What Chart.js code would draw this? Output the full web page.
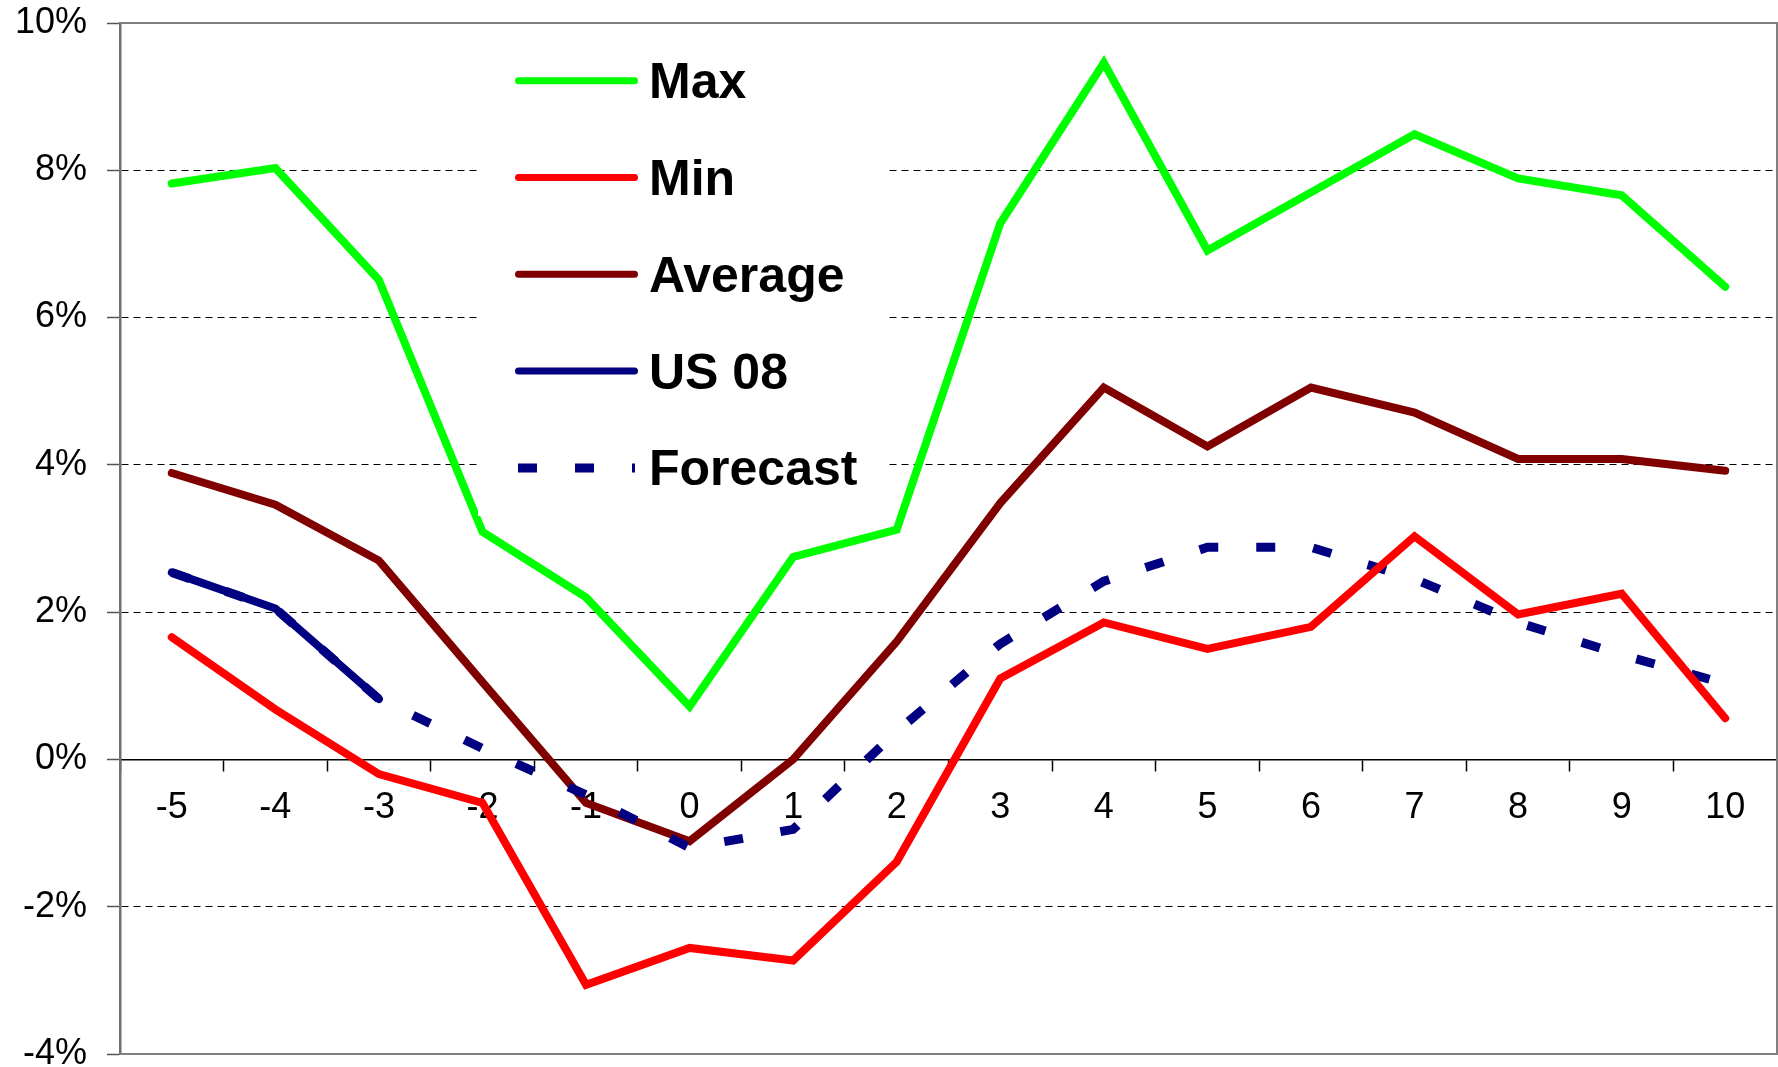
<!DOCTYPE html>
<html lang="en">
<head>
  <meta charset="UTF-8" />
  <title>Max / Min / Average / US 08 / Forecast</title>
  <script src="https://cdn.jsdelivr.net/npm/chart.js"></script>
  <style>
    html, body { margin: 0; padding: 0; background: #fff; }
    .wrap { width: 1778px; height: 1067px; position: relative; }
  </style>
</head>
<body>
  <div class="wrap">
    <canvas id="chart"></canvas>
  </div>

  <script>
    // data (percent)
    const categories = ["-5", "-4", "-3", "-2", "-1", "0", "1", "2", "3", "4", "5", "6", "7", "8", "9", "10"];
    const maxValues = [7.82, 8.03, 6.51, 3.09, 2.2, 0.72, 2.75, 3.12, 7.28, 9.46, 6.91, 7.7, 8.49, 7.89, 7.66, 6.42];
    const minValues = [1.66, 0.68, -0.2, -0.59, -3.06, -2.56, -2.73, -1.39, 1.1, 1.86, 1.5, 1.8, 3.03, 1.97, 2.25, 0.56];
    const avgValues = [3.89, 3.46, 2.7, 1.05, -0.59, -1.11, 0.0, 1.6, 3.48, 5.05, 4.25, 5.05, 4.71, 4.08, 4.08, 3.92];
    const us08Values = [2.54, 2.05, 0.82, null, null, null, null, null, null, null, null, null, null, null, null, null];
    const forecastValues = [2.54, 2.05, 0.82, 0.15, -0.48, -1.2, -0.95, 0.38, 1.57, 2.42, 2.88, 2.88, 2.45, 1.86, 1.42, 1.03];
    const yTicks = [-4, -2, 0, 2, 4, 6, 8, 10];

    Chart.defaults.font.family = "'Liberation Sans', Arial, Helvetica, sans-serif";
    Chart.defaults.color = "#000";

    // top / right / bottom frame of the plot area
    const frame = {
      id: "frame",
      beforeDatasetsDraw(chart) {
        const { ctx, chartArea: a } = chart;
        ctx.save();
        ctx.strokeStyle = "#808080";
        ctx.lineWidth = 2;
        ctx.beginPath();
        ctx.moveTo(a.left, a.top);
        ctx.lineTo(a.right, a.top);
        ctx.lineTo(a.right, a.bottom);
        ctx.lineTo(a.left, a.bottom);
        ctx.stroke();
        ctx.restore();
      }
    };

    // legend box sitting inside the plot, over the grid
    const boxLegend = {
      id: "boxLegend",
      afterDatasetsDraw(chart) {
        const { ctx } = chart;
        ctx.save();
        ctx.fillStyle = "#fff";
        ctx.fillRect(478, 30, 411, 486);

        const x0 = 518, x1 = 635, textX = 649;
        let y = 80.7;
        chart.data.datasets.forEach(ds => {
          ctx.beginPath();
          ctx.strokeStyle = ds.borderColor;
          if (ds.borderDash && ds.borderDash.length) {
            ctx.lineWidth = 9;
            ctx.lineCap = "butt";
            ctx.setLineDash(ds.borderDash);
            ctx.moveTo(x0, y);
            ctx.lineTo(x1, y);
          } else {
            ctx.lineWidth = 7;
            ctx.lineCap = "round";
            ctx.setLineDash([]);
            ctx.moveTo(x0 + 0.5, y);
            ctx.lineTo(x1 - 0.5, y);
          }
          ctx.stroke();
          ctx.setLineDash([]);

          ctx.fillStyle = "#000";
          ctx.font = "bold 50px 'Liberation Sans', Arial, sans-serif";
          ctx.textBaseline = "alphabetic";
          ctx.textAlign = "left";
          ctx.fillText(ds.label, textX, y + 17.5);
          y += 96.8;
        });
        ctx.restore();
      }
    };

    const line = (label, data, color, order, extra) => Object.assign({
      label: label,
      data: data,
      borderColor: color,
      backgroundColor: color,
      borderWidth: 8,
      borderCapStyle: "round",
      borderJoinStyle: "miter",
      pointRadius: 0,
      pointHoverRadius: 0,
      tension: 0,
      fill: false,
      order: order
    }, extra || {});

    new Chart(document.getElementById("chart"), {
      type: "line",
      data: {
        labels: categories,
        datasets: [
          line("Max", maxValues, "#00ff00", 4),
          line("Min", minValues, "#ff0000", 0),
          line("Average", avgValues, "#800000", 3),
          line("US 08", us08Values, "#000080", 1),
          line("Forecast", forecastValues, "#000080", 2, {
            borderWidth: 9, borderCapStyle: "butt", borderDash: [19, 38]
          })
        ]
      },
      options: {
        responsive: true,
        maintainAspectRatio: false,
        animation: false,
        layout: { padding: { top: 23, bottom: 13, left: 0, right: 1 } },
        plugins: {
          legend: { display: false },
          tooltip: { enabled: false }
        },
        scales: {
          x: {
            type: "category",
            position: { y: 0 },
            offset: true,
            grid: {
              offset: true,
              drawOnChartArea: false,
              drawTicks: true,
              tickLength: 11,
              tickColor: "#000",
              tickWidth: 1.5
            },
            border: { color: "#000", width: 1.5 },
            ticks: {
              font: { size: 36, lineHeight: 1 },
              padding: 20,
              maxRotation: 0,
              autoSkip: false
            }
          },
          y: {
            min: -4,
            max: 10,
            afterBuildTicks(scale) {
              scale.ticks = yTicks.map(v => ({ value: v }));
            },
            afterFit(scale) {
              scale.width = 120;
              scale.paddingTop = 0;
              scale.paddingBottom = 0;
            },
            grid: {
              color: c => (c.tick && (c.tick.value === 10 || c.tick.value === -4)) ? "rgba(0,0,0,0)" : "#000",
              lineWidth: 1,
              tickLength: 13,
              tickColor: "#555",
              tickWidth: 1.5,
              tickBorderDash: []
            },
            border: { color: "#707070", width: 2.5, dash: [7, 5] },
            ticks: {
              font: { size: 36, lineHeight: 1 },
              padding: 20,
              callback: v => v + "%"
            }
          }
        }
      },
      plugins: [frame, boxLegend]
    });
  </script>
</body>
</html>
